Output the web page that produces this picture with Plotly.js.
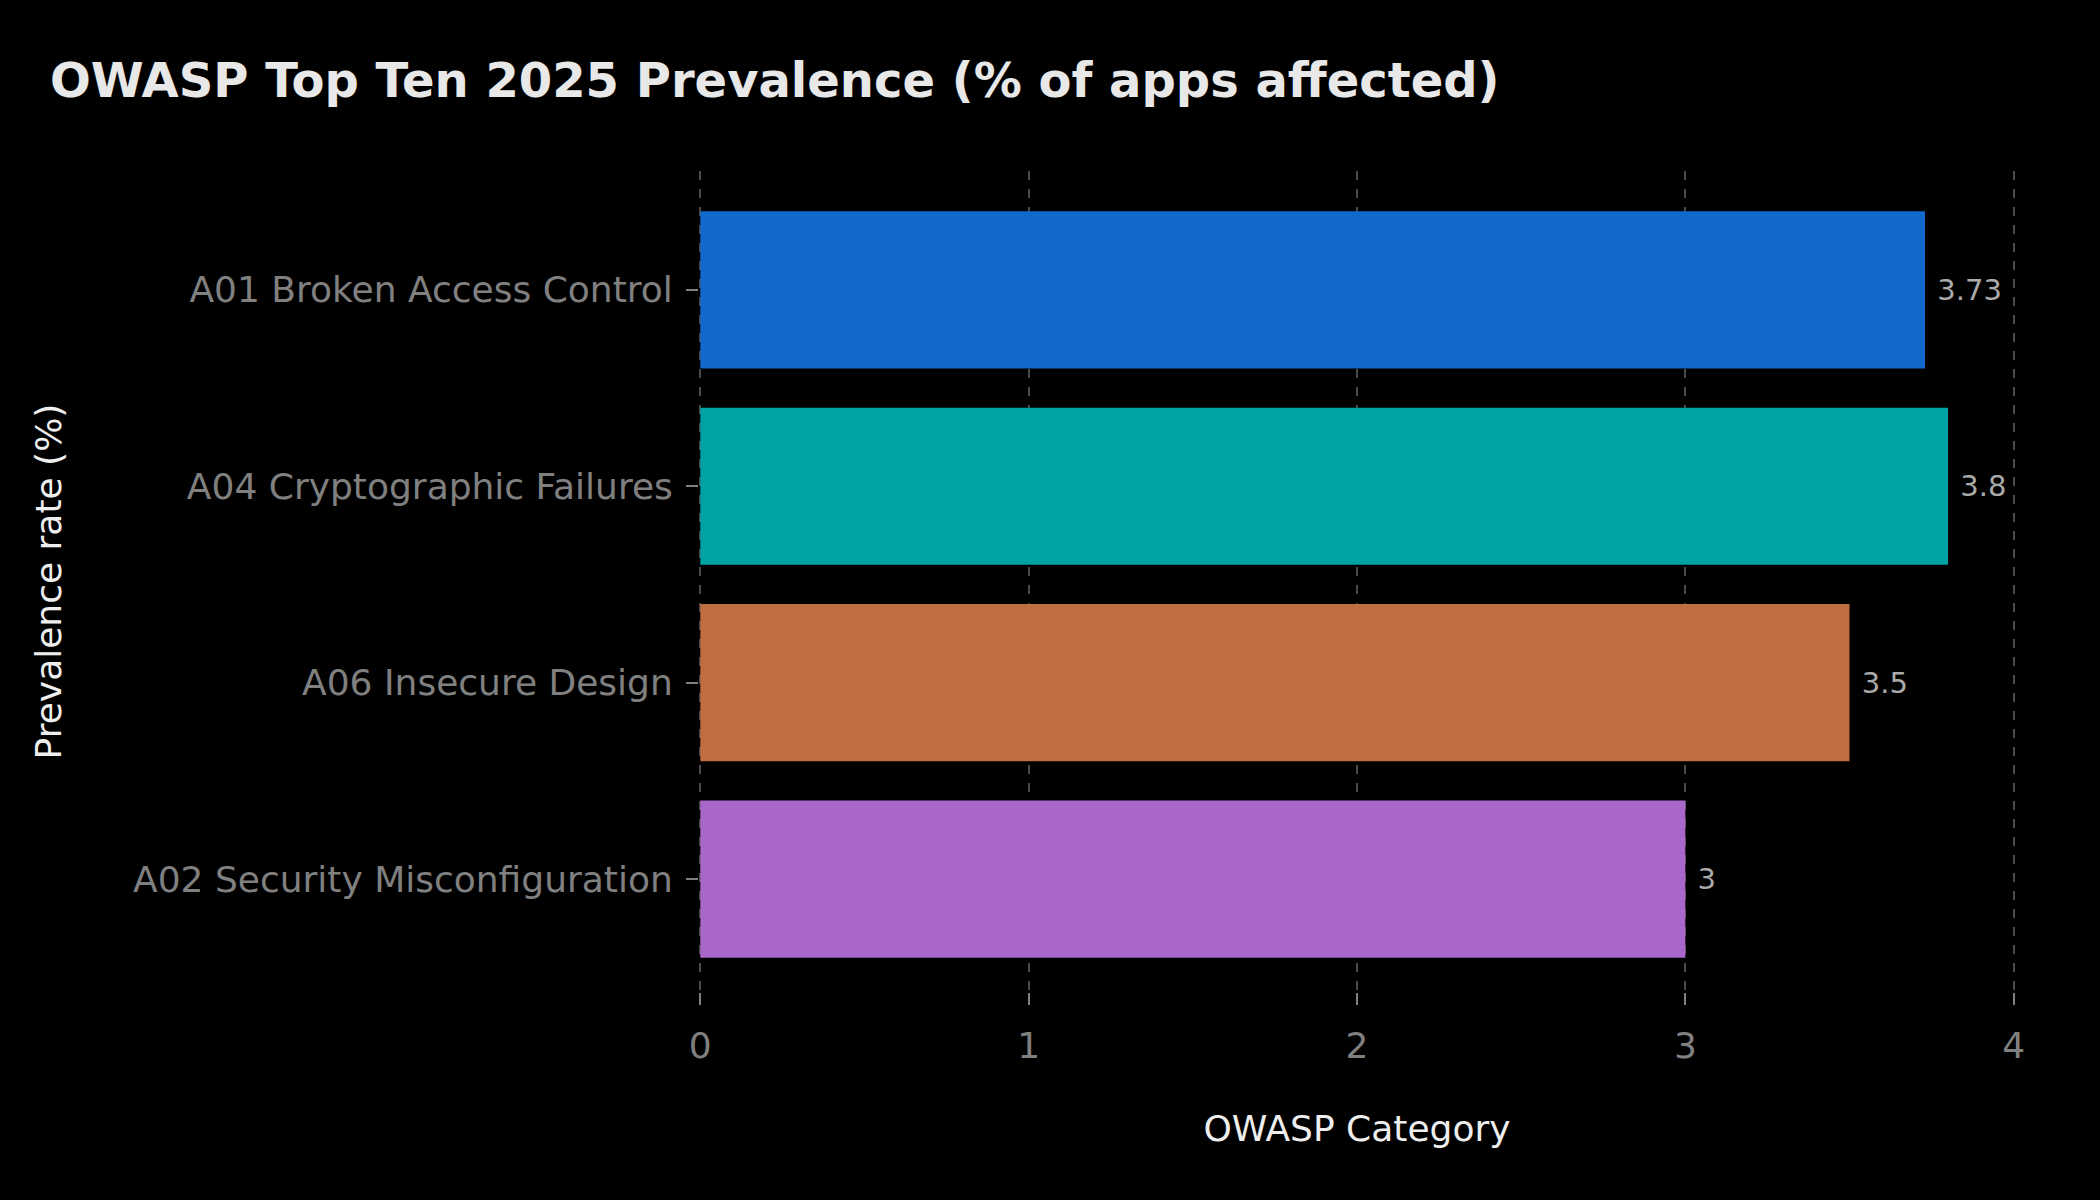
<!DOCTYPE html>
<html>
<head>
<meta charset="utf-8">
<script src="https://cdn.plot.ly/plotly-3.0.1.min.js"></script>
<style>
  html, body { margin: 0; padding: 0; background: #000; }
  #graph { width: 2100px; height: 1200px; }
</style>
</head>
<body>
<div id="graph"></div>
<script>
const categories = ['A01 Broken Access Control', 'A04 Cryptographic Failures', 'A06 Insecure Design', 'A02 Security Misconfiguration'];
const prevalence = [3.73, 3.8, 3.5, 3];
const barColors = ['#1169CB', '#00A3A3', '#BF6E40', '#A967CA'];
const xTicks = [0, 1, 2, 3, 4];

const font = 'DejaVu Sans, sans-serif';

const trace = {
  type: 'bar',
  orientation: 'h',
  x: prevalence,
  y: categories,
  marker: { color: barColors, line: { width: 0 } },
  width: 0.8,
  text: prevalence.map(v => ' ' + v),
  textposition: 'outside',
  cliponaxis: false,
  textfont: { family: font, size: 29, color: '#aaaaaa' },
  hoverinfo: 'none'
};

const layout = {
  width: 2100,
  height: 1200,
  paper_bgcolor: '#000',
  plot_bgcolor: '#000',
  margin: { l: 699, r: 85, t: 171, b: 208, pad: 0 },
  showlegend: false,
  title: {
    text: '<b>OWASP Top Ten 2025 Prevalence (% of apps affected)</b>',
    font: { family: font, size: 48, color: '#e8e8e8' },
    xref: 'container', yref: 'container',
    x: 50 / 2100, xanchor: 'left',
    y: 1 - 80 / 1200, yanchor: 'middle'
  },
  xaxis: {
    range: [-0.004, 4.004],
    tickvals: xTicks,
    ticks: 'outside',
    ticklen: 12,
    tickwidth: 2,
    tickcolor: '#808080',
    ticklabelstandoff: 10,
    tickfont: { family: font, size: 36, color: '#808080' },
    showgrid: true,
    gridcolor: '#4a4a4a',
    griddash: 'dash',
    gridwidth: 2,
    zeroline: false,
    showline: false,
    automargin: false,
    title: {
      text: 'OWASP Category',
      font: { family: font, size: 36, color: '#eeeeee' },
      standoff: 50
    }
  },
  yaxis: {
    type: 'category',
    range: [3.575, -0.605],
    ticks: 'outside',
    ticklen: 12,
    tickwidth: 2,
    tickcolor: '#808080',
    ticklabelstandoff: 6,
    tickfont: { family: font, size: 36, color: '#808080' },
    showgrid: false,
    zeroline: false,
    showline: false,
    automargin: false,
    title: {
      text: 'Prevalence rate (%)',
      font: { family: font, size: 36, color: '#eeeeee' },
      standoff: 60
    }
  }
};

Plotly.newPlot('graph', [trace], layout, { displayModeBar: false, staticPlot: true });
</script>
</body>
</html>
